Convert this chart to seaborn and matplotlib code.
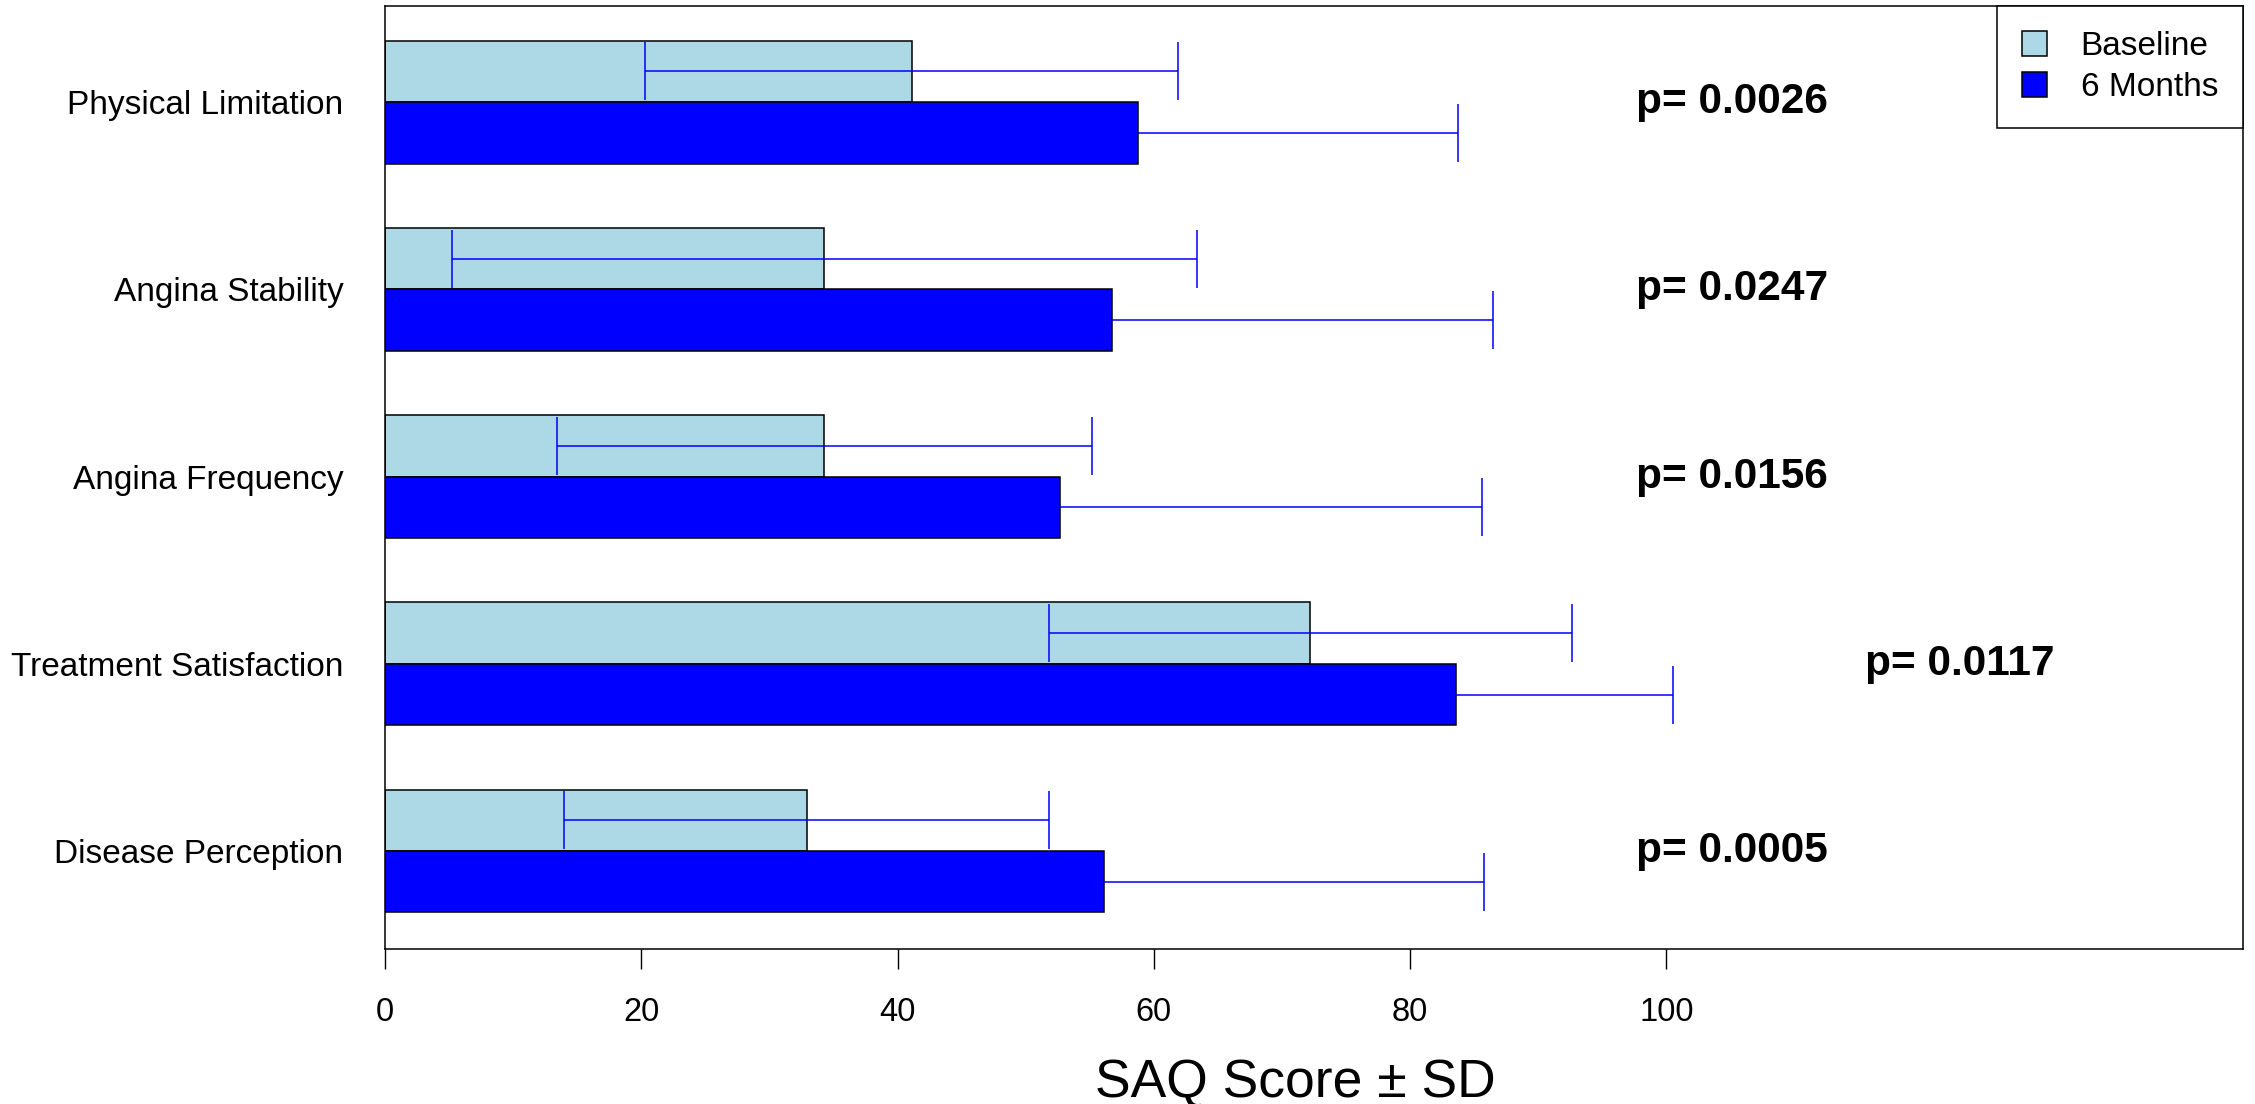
import numpy as np
import pandas as pd
import matplotlib
matplotlib.use("Agg")
import matplotlib.pyplot as plt
import seaborn as sns

categories = ["Physical Limitation", "Angina Stability", "Angina Frequency",
              "Treatment Satisfaction", "Disease Perception"]
groups = ["Baseline", "6 Months"]
baseline_mean = [41.1, 34.3, 34.3, 72.2, 32.9]
baseline_sd = [20.8, 29.1, 20.9, 20.4, 18.9]
month6_mean = [58.75, 56.7, 52.7, 83.6, 56.1]
month6_sd = [25.0, 29.8, 32.9, 16.9, 29.7]
p_values = ["p= 0.0026", "p= 0.0247", "p= 0.0156", "p= 0.0117", "p= 0.0005"]
p_xpos = [97.6, 97.6, 97.6, 115.5, 97.6]
x_ticks = [0, 20, 40, 60, 80, 100]

df = pd.DataFrame({
    "category": categories * 2,
    "group": [groups[0]] * len(categories) + [groups[1]] * len(categories),
    "mean": baseline_mean + month6_mean,
    "sd": baseline_sd + month6_sd,
})

sns.set_style("white")
plt.rcParams["font.family"] = ["Liberation Sans", "DejaVu Sans"]
plt.rcParams["text.color"] = "black"
plt.rcParams["axes.labelcolor"] = "black"

fig = plt.figure(figsize=(22.55, 11.04), dpi=100)
ax = fig.add_axes([0.1707, 0.1404, 0.9947 - 0.1707, 0.9946 - 0.1404])

sns.barplot(data=df, y="category", x="mean", hue="group", order=categories,
            hue_order=groups, palette=["#ADD8E6", "#0000FF"], saturation=1,
            orient="h", width=0.656, gap=0, edgecolor="black", linewidth=1.1,
            errorbar=None, ax=ax, legend=True)

sds = [baseline_sd, month6_sd]
for cont, sd in zip(ax.containers, sds):
    ys = [p.get_y() + p.get_height() / 2 for p in cont.patches]
    xs = [p.get_width() for p in cont.patches]
    ax.errorbar(xs, ys, xerr=sd, fmt="none", ecolor="#0000FF", elinewidth=1.1,
                capsize=21, capthick=1.1, zorder=5)

for i, (txt, xp) in enumerate(zip(p_values, p_xpos)):
    ax.text(xp, i, txt, ha="left", va="center", fontsize=30.5,
            fontweight="bold", color="black")

ax.set_xlim(0, 145)
ax.set_ylim(4.523, -0.514)
ax.set_xticks(x_ticks)
ax.set_xticklabels([str(t) for t in x_ticks])
ax.tick_params(axis="x", bottom=True, length=14.4, width=1, direction="out",
               pad=20, labelsize=23.5, colors="black")
ax.tick_params(axis="y", left=False, length=0, pad=30, labelsize=24,
               colors="black")
ax.set_ylabel("")
ax.set_xlabel("SAQ Score \u00b1 SD", fontsize=38.5, color="black")
ax.xaxis.set_label_coords(0.49, -0.116)

for s in ax.spines.values():
    s.set_visible(True)
    s.set_color("black")
    s.set_linewidth(1.1)

leg = ax.legend(loc="upper right", borderaxespad=0, fontsize=24,
                frameon=True, fancybox=False, framealpha=1,
                edgecolor="black", handlelength=0.75, handleheight=0.75,
                handletextpad=1.0, labelspacing=0.3, borderpad=0.75)
leg.get_frame().set_linewidth(1.1)
for t in leg.get_texts():
    t.set_color("black")

fig.savefig("out.png", dpi=100)
